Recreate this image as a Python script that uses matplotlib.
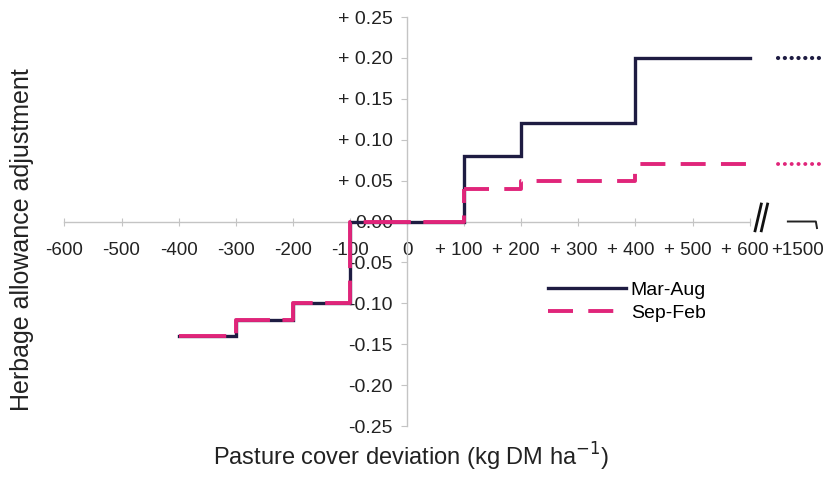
import matplotlib
matplotlib.use('Agg')
import matplotlib.pyplot as plt
import matplotlib.transforms as mtransforms

plt.rcParams['font.family'] = ['Liberation Sans', 'DejaVu Sans']
plt.rcParams['lines.scale_dashes'] = False

# step edges (kg DM/ha deviation) and herbage allowance adjustment per step
edges = [-400, -300, -200, -100, 100, 200, 400, 600]
mar_aug = [-0.14, -0.12, -0.10, 0.00, 0.08, 0.12, 0.20, 0.20]
sep_feb = [-0.14, -0.12, -0.10, 0.00, 0.04, 0.05, 0.07, 0.07]

# broken-axis section standing for "+1500"
tail_x = [650, 730]
tail_mar_aug = [0.20, 0.20]
tail_sep_feb = [0.07, 0.07]
pos_1500 = 693

xticks = [-600, -500, -400, -300, -200, -100, 0, 100, 200, 300, 400, 500, 600]
xlabels = ['-600', '-500', '-400', '-300', '-200', '-100', '0', '+ 100', '+ 200',
           '+ 300', '+ 400', '+ 500', '+ 600']
yticks = [0.25, 0.20, 0.15, 0.10, 0.05, 0.0, -0.05, -0.10, -0.15, -0.20, -0.25]
ylabels = ['+ 0.25', '+ 0.20', '+ 0.15', '+ 0.10', '+ 0.05', '0.00', '-0.05',
           '-0.10', '-0.15', '-0.20', '-0.25']

navy = '#1e1c42'
pink = '#e0257a'
axcol = '#c4c4c4'

fig = plt.figure(figsize=(8.3, 4.8), dpi=100)
ax = fig.add_axes([0, 0, 1, 1])
ax.set_xlim(-712.8, 740.8)
ax.set_ylim(-0.316, 0.2708)

ax.step(edges, mar_aug, where='post', color=navy, lw=2.4, label='Mar-Aug',
        solid_joinstyle='miter', zorder=3)
# shared negative part: pink almost continuous over navy
ax.step(edges[:5], sep_feb[:5], where='post', color=pink, lw=2.8,
        linestyle=(0, (34, 9)), zorder=4)
ax.step(edges[4:], sep_feb[4:], where='post', color=pink, lw=2.8,
        linestyle=(0, (18, 11)), label='Sep-Feb', zorder=4)

ax.plot(tail_x, tail_mar_aug, color=navy, lw=3, linestyle=(0, (0.1, 4.8)),
        dash_capstyle='round')
ax.plot(tail_x, tail_sep_feb, color=pink, lw=2.8, linestyle=(0, (0.1, 4.8)),
        dash_capstyle='round')

for s in ['top', 'right']:
    ax.spines[s].set_visible(False)
ax.spines['left'].set_position(('data', 0))
ax.spines['bottom'].set_position(('data', 0))
ax.spines['left'].set_bounds(-0.25, 0.25)
ax.spines['bottom'].set_bounds(-600, 600)
for s in ['left', 'bottom']:
    ax.spines[s].set_color(axcol)
    ax.spines[s].set_linewidth(1)

ax.set_xticks(xticks + [pos_1500])
ax.set_xticklabels(xlabels + ['+1500'])
ax.xaxis.get_major_ticks()[-1].tick1line.set_visible(False)
ax.set_yticks(yticks)
ax.set_yticklabels(ylabels)
ax.tick_params(axis='x', direction='inout', length=6, color=axcol,
               labelsize=13.5, labelcolor='#222222', pad=12)
ax.tick_params(axis='y', direction='out', length=4, color=axcol,
               labelsize=14, labelcolor='#222222', pad=6)

# "+" labels sit a little left of their ticks
shift = mtransforms.ScaledTranslation(-0.05, 0, fig.dpi_scale_trans)
for lbl in ax.get_xticklabels():
    if lbl.get_text().startswith('+'):
        lbl.set_transform(lbl.get_transform() + shift)

# axis break marks and stub after the break
for x0 in [609, 620]:
    ax.plot([x0, x0 + 12], [-0.013, 0.023], color='#111111', lw=2,
            solid_capstyle='butt')
ax.plot([667, 716, 718], [0, 0, -0.008], color='#222222', lw=1.4)

fig.text(0.026, 1 - 240 / 480, 'Herbage allowance adjustment', rotation=90,
         ha='center', va='center', fontsize=18, color='#222222')
fig.text(0.495, 1 - 457 / 480, 'Pasture cover deviation (kg DM ha$^{-1}$)',
         ha='center', va='center', fontsize=17, color='#222222')

ax.legend(loc='upper left', bbox_to_anchor=(548 / 830, 1 - 281 / 480),
          frameon=False, fontsize=14, handlelength=4.0, handletextpad=0.25,
          labelspacing=0.3, borderpad=0, borderaxespad=0)

fig.savefig('out.png', dpi=100)
